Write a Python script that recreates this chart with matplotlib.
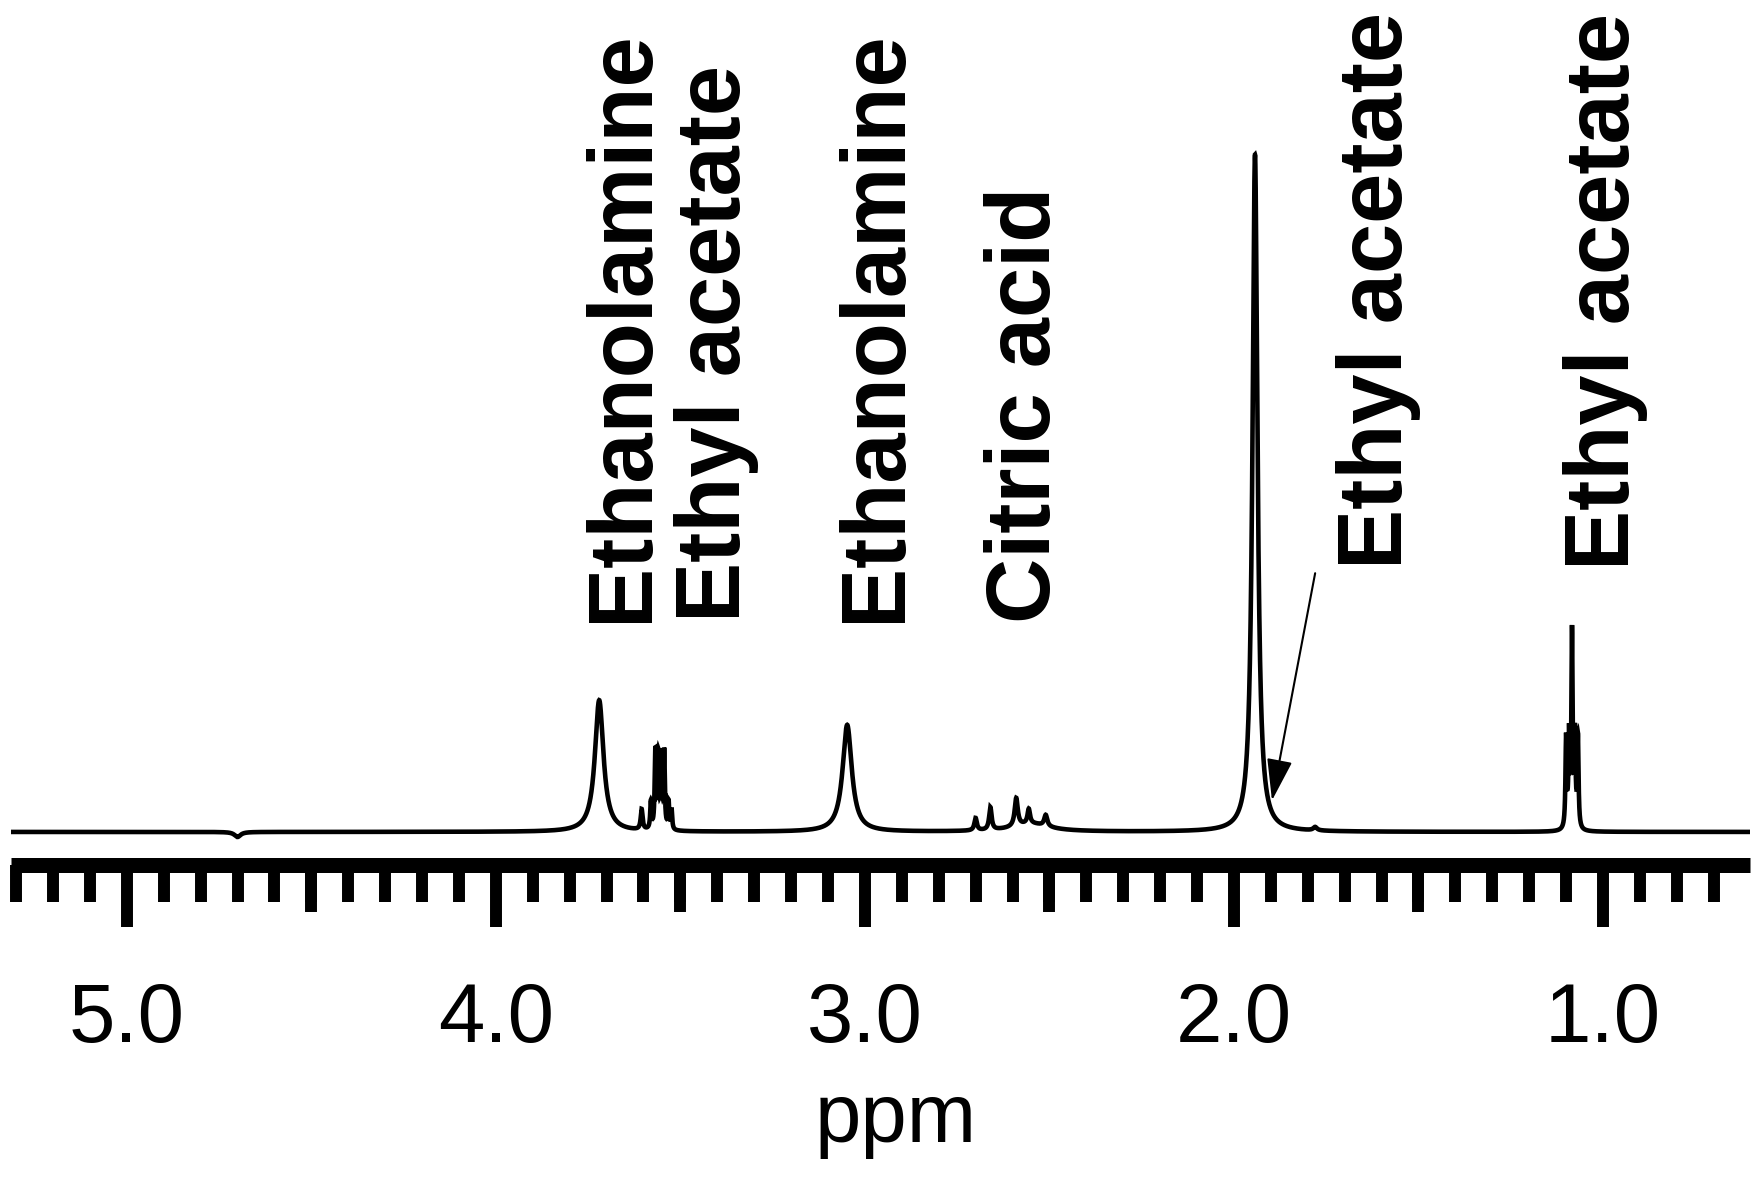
import numpy as np
import matplotlib
matplotlib.use('Agg')
import matplotlib.pyplot as plt

# peak list: position (ppm), height, half width (ppm)
# the multiplets at 3.56 and 1.08 are drawn as closely packed lines so they fill in
peak_ppm = [4.70, 3.720,
            3.605, 3.580, 3.568, 3.560, 3.552, 3.544, 3.532, 3.524,
            3.048,
            2.700, 2.660, 2.590, 2.556, 2.510, 2.550,
            1.943, 1.780,
            1.100, 1.092, 1.084, 1.076, 1.068]
peak_height = [-4.5, 117,
               18, 24, 68, 64, 64, 68, 24, 18,
               95,
               11, 20, 25, 13, 10, 7,
               602, 3,
               80, 80, 172, 80, 80]
peak_width = [0.010, 0.014,
              0.003, 0.002, 0.002, 0.002, 0.002, 0.002, 0.002, 0.002,
              0.015,
              0.004, 0.004, 0.005, 0.004, 0.005, 0.06,
              0.008, 0.006,
              0.002, 0.002, 0.002, 0.002, 0.002]

# labels: text, baseline ppm, bottom height
label_text = ['Ethanolamine', 'Ethyl acetate', 'Ethanolamine', 'Citric acid',
              'Ethyl acetate', 'Ethyl acetate']
label_ppm = [3.591, 3.339, 2.905, 2.499, 1.545, 0.930]
label_y = [187, 187, 187, 186, 234, 233]

major_ticks = [5.0, 4.0, 3.0, 2.0, 1.0]
major_labels = ['5.0', '4.0', '3.0', '2.0', '1.0']
mid_ticks = [4.5, 3.5, 2.5, 1.5]
minor_ticks = np.round(np.arange(0.7, 5.31, 0.1), 1)

x_left = 5.314
x_right = 0.602

ppm = np.linspace(x_left, x_right, 60000)
intensity = np.zeros_like(ppm)
for p, h, w in zip(peak_ppm, peak_height, peak_width):
    intensity += h / (1 + ((ppm - p) / w) ** 2)

plt.rcParams['font.family'] = ['Liberation Sans', 'DejaVu Sans']

fig = plt.figure(figsize=(17.64, 11.9), dpi=100)
ax = fig.add_axes([0.0062, 0.2727, 0.9858, 0.7273])

ax.plot(ppm, intensity, color='black', lw=3.3, solid_joinstyle='miter')
ax.set_xlim(x_left, x_right)
ax.set_ylim(-29.8, 739.5)

for side in ['left', 'right', 'top']:
    ax.spines[side].set_visible(False)
ax.spines['bottom'].set_linewidth(10.8)
ax.spines['bottom'].set_capstyle('butt')
ax.set_yticks([])

ax.set_xticks(major_ticks)
ax.set_xticklabels(major_labels)
ax.set_xticks(minor_ticks, minor=True)
ax.tick_params(axis='x', which='major', direction='out', length=44.3, width=8.6,
               labelsize=60, pad=38.8)
ax.tick_params(axis='x', which='minor', direction='out', length=26.3, width=8.6)

# half-ppm ticks are a bit longer than the 0.1 ones
sec = ax.secondary_xaxis(0)
sec.set_xticks(mid_ticks)
sec.set_xticklabels([])
sec.tick_params(axis='x', direction='out', length=33.5, width=8.6)
sec.spines['bottom'].set_visible(False)

ax.set_xlabel('ppm', fontsize=60)
ax.xaxis.set_label_coords(0.509, -0.249)

for t, xp, yp in zip(label_text, label_ppm, label_y):
    ax.text(xp, yp, t, rotation=90, rotation_mode='anchor', ha='left', va='baseline',
            fontsize=65, fontweight='bold')

ax.annotate('', xy=(1.897, 28), xytext=(1.780, 230),
            arrowprops=dict(arrowstyle='-|>,head_length=1.3,head_width=0.4',
                            mutation_scale=20, lw=1.5, color='black',
                            shrinkA=0, shrinkB=0))

fig.savefig('out.png', dpi=100)
